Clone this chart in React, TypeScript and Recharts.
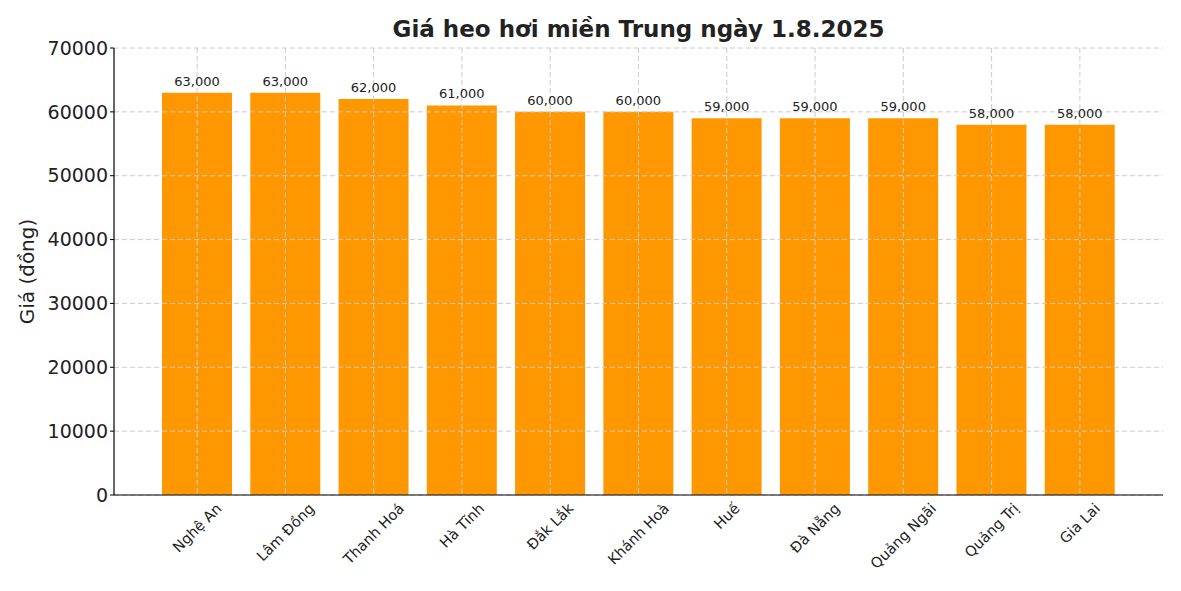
import { BarChart, Bar, XAxis, YAxis, CartesianGrid, LabelList } from 'recharts'

const provinces = [
  'Nghệ An',
  'Lâm Đồng',
  'Thanh Hoá',
  'Hà Tĩnh',
  'Đắk Lắk',
  'Khánh Hoà',
  'Huế',
  'Đà Nẵng',
  'Quảng Ngãi',
  'Quảng Trị',
  'Gia Lai',
]
const prices = [63000, 63000, 62000, 61000, 60000, 60000, 59000, 59000, 59000, 58000, 58000]
const yTicks = [0, 10000, 20000, 30000, 40000, 50000, 60000, 70000]

const data = provinces.map((name, i) => ({ name, price: prices[i] }))

const FONT = '"DejaVu Sans", Verdana, sans-serif'

let ctx: CanvasRenderingContext2D | null = null
function measure(text: string, size: number) {
  if (!ctx) ctx = document.createElement('canvas').getContext('2d')
  if (!ctx) return text.length * size * 0.6
  ctx.font = `${size}px "DejaVu Sans"`
  return ctx.measureText(text).width
}

// matplotlib-style rotated label: bbox centered on the tick, top just under the axis
function RotatedTick(props: any) {
  const { x, payload } = props
  const size = 14.5
  const w = measure(payload.value, size)
  const half = ((w + size * 1.15) * Math.SQRT1_2) / 2
  const cy = 500 + half
  return (
    <text
      x={x}
      y={cy}
      textAnchor="middle"
      dominantBaseline="central"
      transform={`rotate(-45, ${x}, ${cy})`}
      fontSize={size}
      fontFamily={FONT}
      fill="#222"
    >
      {payload.value}
    </text>
  )
}

export default function App() {
  return (
    <div style={{ position: 'absolute', left: 0, top: 0, width: 1181, height: 591, background: '#fff' }}>
      <div
        style={{
          position: 'absolute',
          top: 16,
          left: 114,
          width: 1049,
          textAlign: 'center',
          fontFamily: FONT,
          fontWeight: 'bold',
          fontSize: 23,
          color: '#222',
        }}
      >
        Giá heo hơi miền Trung ngày 1.8.2025
      </div>
      <BarChart
        width={1181}
        height={591}
        data={data}
        margin={{ top: 48, right: 18, left: 0, bottom: 0 }}
      >
        <XAxis
          dataKey="name"
          interval={0}
          height={96}
          padding={{ left: 39, right: 39 }}
          axisLine={{ stroke: '#000', strokeWidth: 1.2 }}
          tickLine={false}
          tick={<RotatedTick />}
          zIndex={800}
        />
        <YAxis
          width={114}
          domain={[0, 70000]}
          ticks={yTicks}
          axisLine={{ stroke: '#000', strokeWidth: 1.2 }}
          tickLine={{ stroke: '#000' }}
          tickSize={4}
          tick={{ fontSize: 19, fill: '#222', fontFamily: FONT }}
          zIndex={800}
          label={{
            value: 'Giá (đồng)',
            angle: -90,
            position: 'insideLeft',
            dx: 22,
            style: { fontSize: 20, fill: '#222', fontFamily: FONT, textAnchor: 'middle' },
          }}
        />
        <Bar dataKey="price" fill="#ff9800" barSize={70} isAnimationActive={false}>
          <LabelList
            dataKey="price"
            position="top"
            offset={7}
            formatter={(v: any) => Number(v).toLocaleString('en-US')}
            style={{ fontSize: 13, fill: '#222', fontFamily: FONT }}
          />
        </Bar>
        <CartesianGrid stroke="#cccccc" strokeDasharray="5 3" syncWithTicks zIndex={500} />
      </BarChart>
    </div>
  )
}
